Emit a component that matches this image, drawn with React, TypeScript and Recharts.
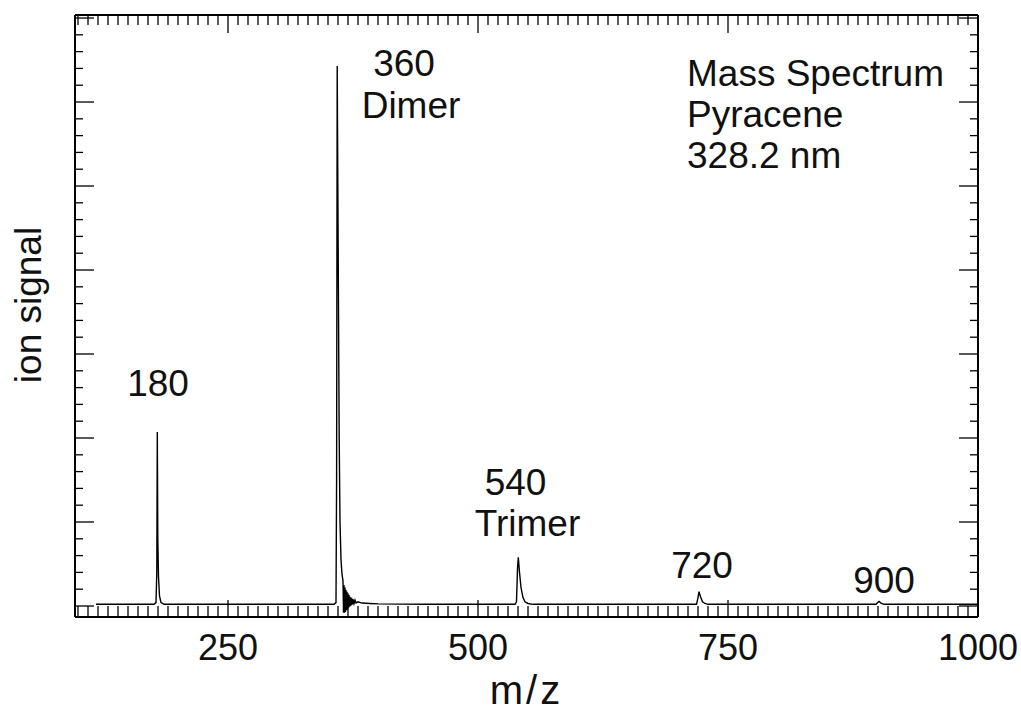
import React from "react";
import { Line, LineChart, ReferenceDot, XAxis, YAxis } from "recharts";

// m/z positions and ion signal (signal in major-tick units)
const mzValues = [
  118, 150, 176, 178, 178.8, 179.3, 179.8, 180.5, 181.5, 183, 186, 250, 300,
  356, 358, 358.6, 359.2, 360.2, 361.2, 362, 363, 364, 365,
  365.5, 366, 366.5, 367, 367.5, 368, 368.5, 369, 369.5, 370, 370.5, 371,
  371.5, 372, 372.5, 373, 373.5, 374, 374.5, 375, 376, 377, 378, 380, 384,
  392, 400, 450, 500,
  537, 538.5, 539.5, 540.3, 541.5, 543, 545, 547, 550, 555, 650,
  718.5, 720, 721, 722.5, 724.5, 727, 730, 800,
  898, 900, 901, 903, 906, 1000,
];
const signalValues = [
  0.02, 0.02, 0.02, 0.04, 0.4, 2.07, 0.8, 0.35, 0.12, 0.04, 0.02, 0.02, 0.02,
  0.02, 0.04, 1.5, 6.43, 4.2, 2.0, 1.0, 0.55, 0.38, 0.3,
  -0.08, 0.25, -0.08, 0.22, -0.07, 0.19, -0.05, 0.17, -0.04, 0.15, -0.02, 0.13,
  -0.01, 0.11, 0.0, 0.1, 0.01, 0.09, 0.02, 0.08, 0.03, 0.07, 0.035, 0.05, 0.035,
  0.03, 0.025, 0.02, 0.02,
  0.02, 0.05, 0.45, 0.58, 0.4, 0.22, 0.1, 0.05, 0.03, 0.02, 0.02,
  0.02, 0.1, 0.17, 0.11, 0.05, 0.03, 0.02, 0.02,
  0.02, 0.045, 0.055, 0.035, 0.02, 0.02,
];

const xMajorTicks = [250, 500, 750, 1000];
const xMinorStep = 10;
const xTickRange = [100, 1000];
const yMajorStep = 1;
const yMinorPerMajor = 5;
const yTickTop = 7;

const peakLabels = [
  { text: "180", mz: 180, value: 2.5, anchor: "middle" },
  { text: "360", mz: 426, value: 6.31, anchor: "middle" },
  { text: "Dimer", mz: 433, value: 5.81, anchor: "middle" },
  { text: "540", mz: 537.5, value: 1.32, anchor: "middle" },
  { text: "Trimer", mz: 549.5, value: 0.83, anchor: "middle" },
  { text: "720", mz: 724, value: 0.33, anchor: "middle" },
  { text: "900", mz: 906, value: 0.155, anchor: "middle" },
];
const infoLines = [
  { text: "Mass Spectrum", mz: 709, value: 6.19, anchor: "start" },
  { text: "Pyracene", mz: 709, value: 5.7, anchor: "start" },
  { text: "328.2 nm", mz: 709, value: 5.21, anchor: "start" },
];

const data = mzValues.map((mz, i) => ({ mz, signal: signalValues[i] }));

const xTicks: number[] = [];
for (let v = xTickRange[0]; v <= xTickRange[1]; v += xMinorStep) xTicks.push(v);
const yTicks: number[] = [];
for (let i = 0; i <= yTickTop * yMinorPerMajor; i++) yTicks.push(i / yMinorPerMajor);

const FONT = "'Liberation Sans', Arial, sans-serif";
const INK = "#000";

const isXMajor = (v: number) => xMajorTicks.includes(v);
const isYMajor = (v: number) => Math.abs(v / yMajorStep - Math.round(v / yMajorStep)) < 1e-6;

function BottomTick({ x, y, payload }: any) {
  const major = isXMajor(payload.value);
  return (
    <g>
      <line x1={x} x2={x} y1={y} y2={y - (major ? 17 : 11)} stroke={INK} strokeWidth={1.3} />
      {major ? (
        <text x={x} y={y + 43} textAnchor="middle" fontFamily={FONT} fontSize={36} fill="#111">
          {payload.value}
        </text>
      ) : null}
    </g>
  );
}

function TopTick({ x, y, payload }: any) {
  const major = isXMajor(payload.value);
  return <line x1={x} x2={x} y1={y} y2={y + (major ? 18 : 10)} stroke={INK} strokeWidth={1.3} />;
}

function LeftTick({ x, y, payload }: any) {
  const major = isYMajor(payload.value);
  return <line x1={x} x2={x + (major ? 19 : 8)} y1={y} y2={y} stroke={INK} strokeWidth={1.3} />;
}

function RightTick({ x, y, payload }: any) {
  const major = isYMajor(payload.value);
  return <line x1={x} x2={x - (major ? 19 : 8)} y1={y} y2={y} stroke={INK} strokeWidth={1.3} />;
}

const textLabel = (text: string, anchor: string) => (props: any) => {
  const vb = props.viewBox || {};
  return (
    <text
      x={vb.x + (vb.width || 0) / 2}
      y={vb.y + (vb.height || 0) / 2}
      textAnchor={anchor as any}
      fontFamily={FONT}
      fontSize={37}
      fill="#111"
    >
      {text}
    </text>
  );
};

export default function App() {
  return (
    <div style={{ position: "absolute", left: 0, top: 0, background: "#fff" }}>
      <LineChart
        width={1021}
        height={716}
        data={data}
        margin={{ top: 0, right: 0, bottom: 0, left: 0 }}
      >
        <XAxis
          xAxisId="bottom"
          dataKey="mz"
          type="number"
          domain={[97, 1000]}
          allowDataOverflow
          ticks={xTicks}
          interval={0}
          height={99}
          tickSize={0}
          tickMargin={0}
          tickLine={false}
          tick={<BottomTick />}
          axisLine={{ stroke: INK, strokeWidth: 2 }}
          label={{
            content: (p: any) => (
              <text
                x={p.viewBox.x + p.viewBox.width / 2}
                y={p.viewBox.y + 87}
                textAnchor="middle"
                fontFamily={FONT}
                fontSize={40}
                letterSpacing={3}
                fill="#111"
              >
                m/z
              </text>
            ),
          }}
        />
        <XAxis
          xAxisId="top"
          orientation="top"
          dataKey="mz"
          type="number"
          domain={[97, 1000]}
          allowDataOverflow
          ticks={xTicks}
          interval={0}
          height={15}
          tickSize={0}
          tickMargin={0}
          tickLine={false}
          tick={<TopTick />}
          axisLine={{ stroke: INK, strokeWidth: 2 }}
        />
        <YAxis
          yAxisId="left"
          type="number"
          domain={[-0.131, 7.036]}
          allowDataOverflow
          ticks={yTicks}
          interval={0}
          width={75}
          tickSize={0}
          tickMargin={0}
          tickLine={false}
          tick={<LeftTick />}
          axisLine={{ stroke: INK, strokeWidth: 2 }}
          label={{
            content: (p: any) => {
              const cx = 41;
              const cy = p.viewBox.y + p.viewBox.height / 2 - 11;
              return (
                <text
                  x={cx}
                  y={cy}
                  transform={`rotate(-90 ${cx} ${cy})`}
                  textAnchor="middle"
                  fontFamily={FONT}
                  fontSize={37}
                  fill="#111"
                >
                  ion signal
                </text>
              );
            },
          }}
        />
        <YAxis
          yAxisId="right"
          orientation="right"
          type="number"
          domain={[-0.131, 7.036]}
          allowDataOverflow
          ticks={yTicks}
          interval={0}
          width={43}
          tickSize={0}
          tickMargin={0}
          tickLine={false}
          tick={<RightTick />}
          axisLine={{ stroke: INK, strokeWidth: 2 }}
        />
        <Line
          xAxisId="top"
          yAxisId="right"
          dataKey="signal"
          stroke="none"
          dot={false}
          activeDot={false}
          isAnimationActive={false}
        />
        <Line
          xAxisId="bottom"
          yAxisId="left"
          type="linear"
          dataKey="signal"
          stroke={INK}
          strokeWidth={1.4}
          dot={false}
          activeDot={false}
          isAnimationActive={false}
        />
        {[...peakLabels, ...infoLines].map((l) => (
          <ReferenceDot
            key={l.text}
            xAxisId="bottom"
            yAxisId="left"
            x={l.mz}
            y={l.value}
            r={0}
            fill="none"
            stroke="none"
            label={{ content: textLabel(l.text, l.anchor) }}
          />
        ))}
      </LineChart>
    </div>
  );
}
